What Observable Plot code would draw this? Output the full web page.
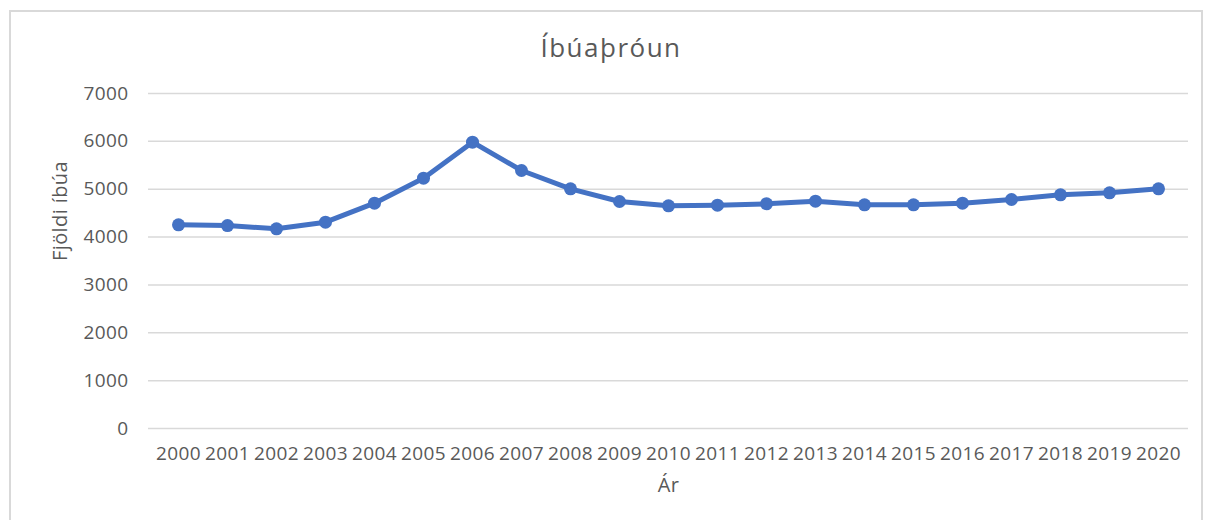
<!DOCTYPE html>
<html>
<head>
<meta charset="utf-8">
<script src="https://cdn.jsdelivr.net/npm/d3@7"></script>
<script src="https://cdn.jsdelivr.net/npm/@observablehq/plot@0.6"></script>
<style>
  html, body { margin: 0; padding: 0; background: #fff; }
  #wrap { position: relative; width: 1214px; height: 520px; overflow: hidden; font-family: "Open Sans", sans-serif; }
  #frame { position: absolute; left: 9px; top: 10px; width: 1194px; height: 520px; border: 2px solid #d9d9d9; box-sizing: border-box; }
  #title { position: absolute; left: 0; top: 30px; width: 1214px; padding-left: 8px; box-sizing: border-box; text-align: center; font-size: 26px; letter-spacing: 1.5px; color: #595959; line-height: 34px; }
  #chart { position: absolute; left: 0; top: 60px; }
</style>
</head>
<body>
<div id="wrap">
  <div id="frame"></div>
  <div id="title">Íbúaþróun</div>
  <div id="chart"></div>
</div>
<script>
const years = ["2000","2001","2002","2003","2004","2005","2006","2007","2008","2009","2010","2011","2012","2013","2014","2015","2016","2017","2018","2019","2020"];
const population = [4256, 4241, 4172, 4311, 4708, 5231, 5983, 5391, 5008, 4743, 4653, 4666, 4695, 4750, 4674, 4674, 4708, 4785, 4883, 4925, 5008];
const yTicks = [0, 1000, 2000, 3000, 4000, 5000, 6000, 7000];
const xLabel = "Ár";
const yLabel = "Fjöldi íbúa";

const data = years.map((y, i) => ({year: y, value: population[i]}));

const textColor = "#595959";
const gridColor = "#d9d9d9";
const lineColor = "#4472C4";

const chart = Plot.plot({
  width: 1214,
  height: 460,
  marginTop: 33,
  marginBottom: 92,
  marginLeft: 148,
  marginRight: 26,
  style: { fontFamily: "Open Sans, sans-serif", fontSize: "19px", color: textColor, background: "transparent", letterSpacing: "0.4px" },
  x: { type: "point", domain: years, padding: 0.5 },
  y: { domain: [0, 7000] },
  marks: [
    Plot.gridY(yTicks, { stroke: gridColor, strokeOpacity: 1, strokeWidth: 1.5 }),
    Plot.axisY(yTicks, { tickSize: 0, tickPadding: 20, label: null, fill: textColor, tickFormat: d => String(d) }),
    Plot.axisX({ tickSize: 0, tickPadding: 18, label: null, fill: textColor }),
    Plot.line(data, { x: "year", y: "value", stroke: lineColor, strokeWidth: 5, strokeLinejoin: "round", strokeLinecap: "round" }),
    Plot.dot(data, { x: "year", y: "value", r: 6.5, fill: lineColor, stroke: "none" }),
    Plot.text([xLabel], { text: d => d, frameAnchor: "bottom", dy: 63, fill: textColor, fontSize: 20 }),
    Plot.text([yLabel], { text: d => d, frameAnchor: "left", dx: -88, rotate: -90, fill: textColor, fontSize: 20 })
  ]
});
document.getElementById("chart").appendChild(chart);
</script>
</body>
</html>
